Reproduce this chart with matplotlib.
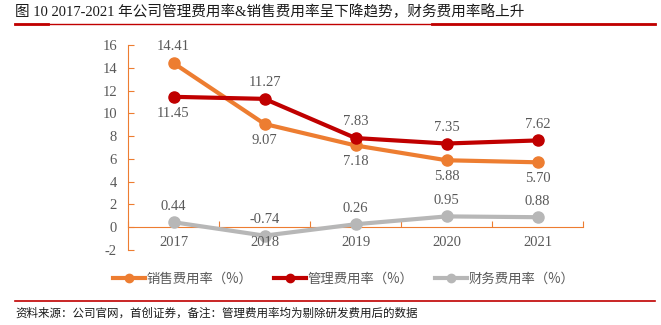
import matplotlib
matplotlib.use("Agg")
import matplotlib.pyplot as plt
from matplotlib.lines import Line2D

years = ["2017", "2018", "2019", "2020", "2021"]
sales_rate = [14.41, 9.07, 7.18, 5.88, 5.70]
mgmt_rate = [11.45, 11.27, 7.83, 7.35, 7.62]
fin_rate = [0.44, -0.74, 0.26, 0.95, 0.88]
yticks = [-2, 0, 2, 4, 6, 8, 10, 12, 14, 16]

title = "图 10 2017-2021 年公司管理费用率&销售费用率呈下降趋势，财务费用率略上升"
source = "资料来源：公司官网，首创证券，备注：管理费用率均为剔除研发费用后的数据"
names = ["销售费用率（%）", "管理费用率（%）", "财务费用率（%）"]

C_ORANGE = "#ED7D31"
C_RED = "#C00000"
C_GREY = "#B7B7B7"
TXT = "#595959"
SERIF = ["Liberation Serif", "Noto Sans CJK SC"]
CJK = ["Noto Sans CJK SC", "DejaVu Sans"]
FS = 10.5

fig = plt.figure(figsize=(6.61, 3.25), dpi=100)
ax = fig.add_axes([128/661, 1-250/325, 455/661, 205/325])

x = list(range(len(years)))
series = [(sales_rate, C_ORANGE), (mgmt_rate, C_RED), (fin_rate, C_GREY)]
for vals, c in series:
    ax.plot(x, vals, color=c, lw=3, marker="o", ms=8, zorder=3)

ax.set_xlim(-0.5, 4.5)
ax.set_ylim(-2, 16)
ax.set_yticks(yticks)
ax.set_yticklabels([str(v) for v in yticks], fontfamily=SERIF, fontsize=FS, color=TXT)
ax.set_xticks([i - 0.5 for i in range(len(years) + 1)])
ax.set_xticklabels([])
for i, y in enumerate(years):
    ax.text(i, -0.75, y, ha="center", va="top", fontfamily=SERIF, fontsize=FS, color=TXT)

for s in ["top", "right"]:
    ax.spines[s].set_visible(False)
ax.spines["left"].set_color(C_ORANGE)
ax.spines["bottom"].set_color(C_ORANGE)
ax.spines["bottom"].set_position(("data", 0))
ax.tick_params(axis="y", direction="in", length=4, color=C_ORANGE, pad=8)
ax.tick_params(axis="x", direction="in", length=4, color=C_ORANGE)

# data labels
off = 0.85
sales_pos = ["above", "below", "below", "below", "below"]
mgmt_pos = ["below", "above", "above", "above", "above"]
fin_pos = ["above"] * 5
for vals, poss in [(sales_rate, sales_pos), (mgmt_rate, mgmt_pos), (fin_rate, fin_pos)]:
    for i, (v, p) in enumerate(zip(vals, poss)):
        if p == "above":
            ax.text(i, v + off, f"{v:.2f}", ha="center", va="bottom", fontfamily=SERIF, fontsize=FS, color=TXT)
        else:
            ax.text(i, v - off, f"{v:.2f}", ha="center", va="top", fontfamily=SERIF, fontsize=FS, color=TXT)

# legend
handles = [Line2D([0], [0], color=c, lw=3, marker="o", ms=6) for _, c in series]
leg = fig.legend(handles, names, loc="center", bbox_to_anchor=(0.52, 1-279/325), ncol=3,
                 frameon=False, handlelength=2.4, columnspacing=1.6, handletextpad=0.15,
                 prop={"family": CJK, "size": 9.6})
for t in leg.get_texts():
    t.set_color(TXT)

# title and source
fig.text(15/661, 1-12/325, title, ha="left", va="center", fontfamily=SERIF, fontsize=10.5, color="#1a1a1a")
fig.add_artist(Line2D([15/661, 655/661], [1-23.5/325]*2, color=C_RED, lw=1.0))
fig.add_artist(Line2D([15/661, 48/661], [1-23.5/325]*2, color=C_RED, lw=2.0))
fig.add_artist(Line2D([432/661, 655/661], [1-23.5/325]*2, color=C_RED, lw=2.0))
fig.add_artist(Line2D([15/661, 655/661], [1-300.5/325]*2, color=C_RED, lw=1.2))
fig.text(15/661, 1-313/325, source, ha="left", va="center", fontfamily=CJK, fontsize=8.3, color="#1a1a1a")

fig.savefig("out.png", dpi=100)
